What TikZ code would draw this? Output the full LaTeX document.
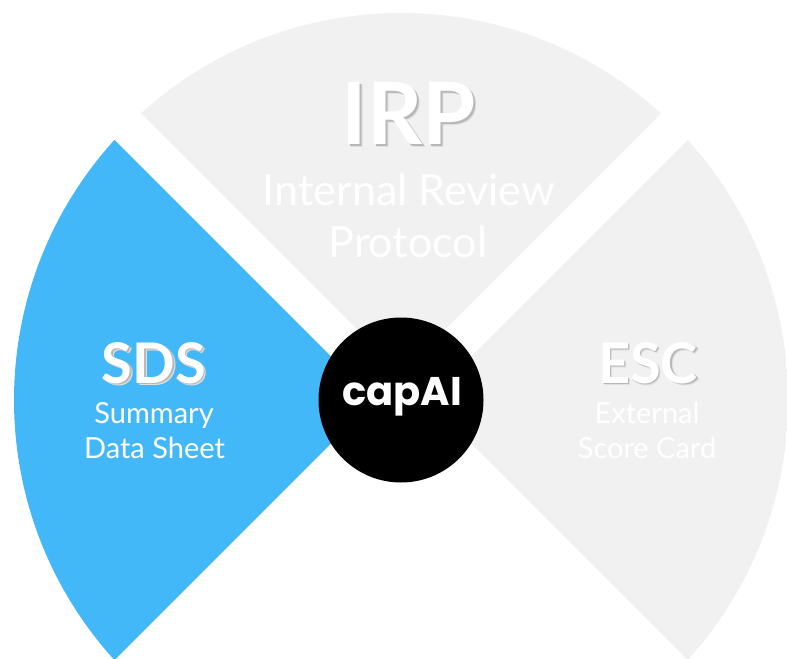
\documentclass[tikz,border=0pt]{standalone}
\usepackage{fontspec}
\setmainfont{Lato}
\newfontfamily\hubfont{Poppins}
\definecolor{sdsblue}{HTML}{43B8F9}
\definecolor{sectorgrey}{HTML}{F1F1F1}
\newcommand{\shadowed}[1]{%
\rlap{\kern2.5bp\raisebox{-2.5bp}{\color{black!12}#1}}%
\rlap{\kern1.5bp\raisebox{-1.5bp}{\color{black!28}#1}}#1}
\begin{document}
\begin{tikzpicture}
[x = {(1bp,0bp)},
y = {(0bp,-1bp)},
title/.style = {text=white, anchor=base},
big/.style = {font=\bfseries\fontsize{86bp}{86bp}\selectfont},
mid/.style = {font=\bfseries\fontsize{56bp}{56bp}\selectfont},
sub/.style = {text=white, anchor=base},
hub/.style = {circle, fill=black, minimum size=165bp, inner sep=0pt}]
\useasboundingbox (0,0) rectangle (787,659);

\begin{scope}
\clip (401,400) circle (387);
\fill[sdsblue] (374.5,400) -- ++(-600,-600) -- ++(0,1200) -- cycle;
\fill[sectorgrey] (401,373.5) -- ++(-600,-600) -- ++(1200,0) -- cycle;
\fill[sectorgrey] (427.5,400) -- ++(600,-600) -- ++(0,1200) -- cycle;
\end{scope}

\node[title, big] (irp) at (409,145) {\shadowed{IRP}};
\node[sub, font=\fontsize{43bp}{43bp}\selectfont] (irp-top) at (409,205) {Internal Review};
\node[sub, font=\fontsize{43bp}{43bp}\selectfont] (irp-bottom) at (408,257) {Protocol};

\node[title, mid] (sds) at (154,383) {\shadowed{SDS}};
\node[sub, font=\fontsize{29bp}{29bp}\selectfont] (sds-top) at (154,423) {Summary};
\node[sub, font=\fontsize{29bp}{29bp}\selectfont] (sds-bottom) at (154.5,458) {Data Sheet};

\node[title, mid] (esc) at (648,383) {\shadowed{ESC}};
\node[sub, font=\fontsize{29bp}{29bp}\selectfont] (esc-top) at (647,423) {External};
\node[sub, font=\fontsize{29bp}{29bp}\selectfont] (esc-bottom) at (647,458) {Score Card};

\node[hub] (capai) at (401,400) {};
\node[title, font=\hubfont\bfseries\fontsize{40bp}{40bp}\selectfont] (capai-text) at (402,405) {capAI};
\end{tikzpicture}
\end{document}
